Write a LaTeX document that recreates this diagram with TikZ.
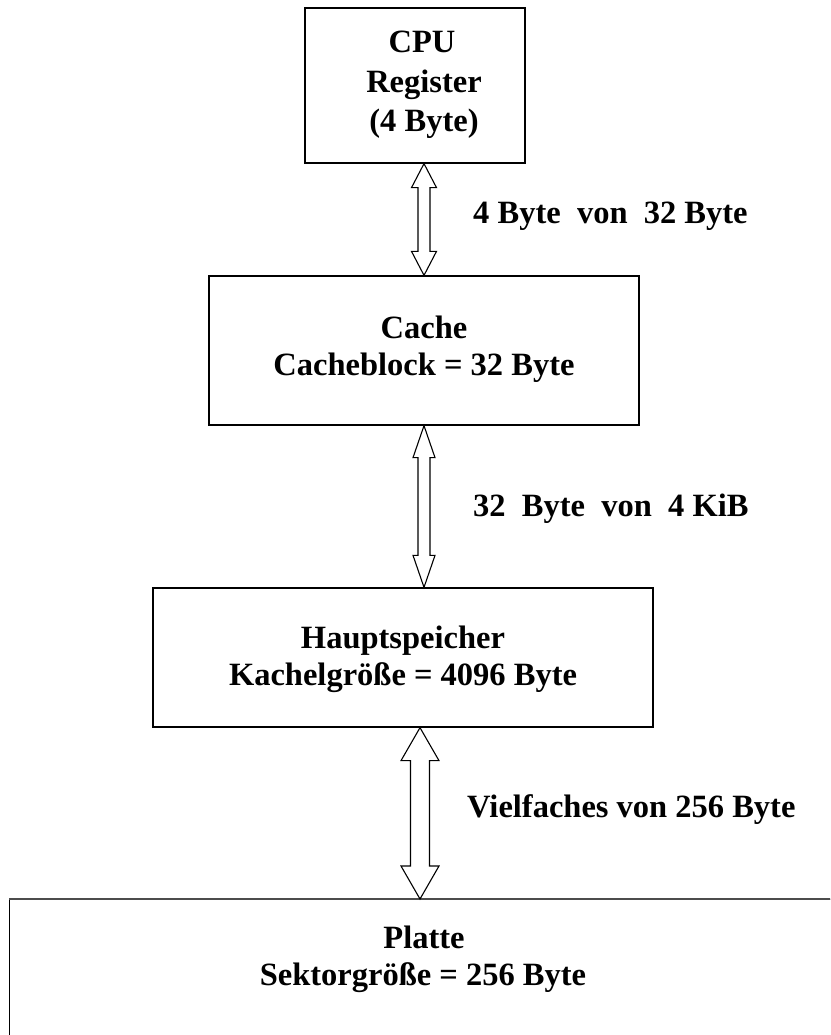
\documentclass[tikz,border=0pt]{standalone}
\usepackage{fontspec}
\setmainfont{Liberation Serif}
\usetikzlibrary{calc}
\tikzset{
  box/.style={draw=black, line width=1.3pt, fill=none, inner sep=0pt},
  txt/.style={font=\fontsize{32.5}{39}\selectfont\bfseries, inner sep=0pt, anchor=base},
  lbl/.style={font=\fontsize{32.5}{39}\selectfont\bfseries, inner sep=0pt, anchor=base west},
  hollow/.style={draw=black, line width=1.1pt, fill=white, line join=miter}
}
% #1 top point, #2 bottom point, #3 head half width, #4 shaft half width, #5 head length
\newcommand\hollowdbl[5]{%
  \path[hollow] let \p1=(#1), \p2=(#2) in
    (\x1,\y1) -- ({\x1+#3pt},{\y1-#5pt}) -- ({\x1+#4pt},{\y1-#5pt}) --
    ({\x1+#4pt},{\y2+#5pt}) -- ({\x1+#3pt},{\y2+#5pt}) -- (\x1,\y2) --
    ({\x1-#3pt},{\y2+#5pt}) -- ({\x1-#4pt},{\y2+#5pt}) --
    ({\x1-#4pt},{\y1-#5pt}) -- ({\x1-#3pt},{\y1-#5pt}) -- cycle;}
\begin{document}
\begin{tikzpicture}[x=1pt,y=-1pt]
\useasboundingbox (0,0) rectangle (830,1035);
\clip (0,0) rectangle (830,1035);
\fill[white] (0,0) rectangle (830,1035);

% boxes
\node[box, minimum width=220pt, minimum height=155pt] (cpu) at (415,85.5) {};
\node[box, minimum width=430pt, minimum height=149pt] (cache) at (424,350.5) {};
\node[box, minimum width=500pt, minimum height=139pt] (haupt) at (403,657.5) {};
\node[box, anchor=north west, minimum width=900pt, minimum height=200pt] (platte) at (9,899) {};
\draw[black!70, line width=2pt] (platte.north west) -- (platte.north east);
\coordinate (ptop) at (420,899);

% box texts
\node[txt] (cpu1) at (422,53) {CPU};
\node[txt] (cpu2) at (424,93) {Register};
\node[txt] (cpu3) at (424,132) {(4 Byte)};
\node[txt] (cache1) at (424,338) {Cache};
\node[txt] (cache2) at (424,375) {Cacheblock = 32 Byte};
\node[txt] (haupt1) at (403,648) {Hauptspeicher};
\node[txt] (haupt2) at (403,685) {Kachelgröße = 4096 Byte};
\node[txt] (platte1) at (424,948) {Platte};
\node[txt] (platte2) at (423,985) {Sektorgröße = 256 Byte};

% arrows
\hollowdbl{cpu.south -| cache.north}{cache.north}{12.5}{6}{24}
\hollowdbl{cache.south}{haupt.north -| cache.south}{11}{6}{32}
\hollowdbl{haupt.south -| ptop}{ptop}{19}{9.5}{33}

% arrow labels
\node[lbl] (l1) at (473,223) {4 Byte\ \ von\ \ 32 Byte};
\node[lbl] (l2) at (473,516) {32\ \ Byte\ \ von\ \ 4 KiB};
\node[lbl] (l3) at (467,817) {Vielfaches von 256 Byte};
\end{tikzpicture}
\end{document}
